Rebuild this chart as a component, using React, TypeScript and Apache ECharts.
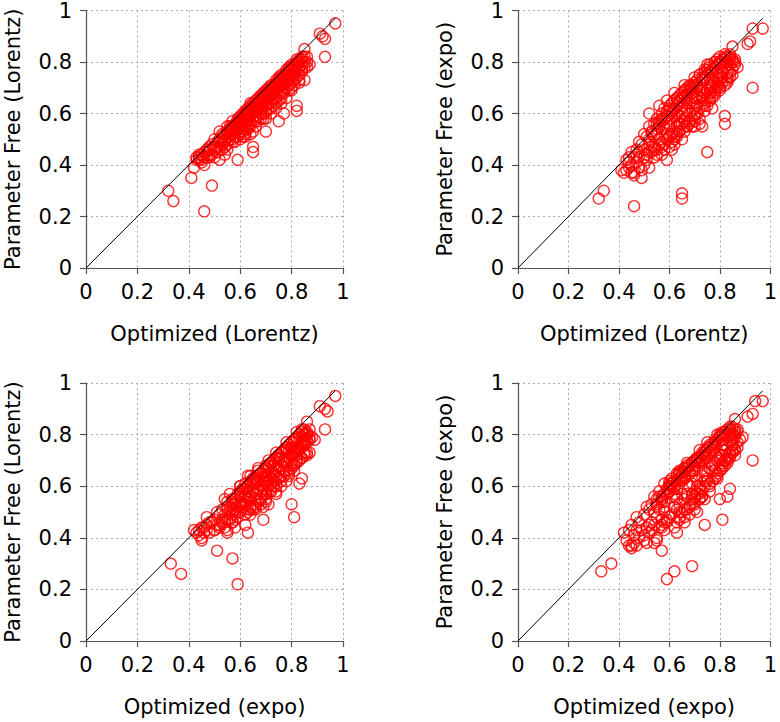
import React, { useEffect, useRef } from "react";
import * as echarts from "echarts";

// Each index i is one item measured four ways.
const optLorentz: number[] = [
  0.46, 0.32, 0.34, 0.49, 0.41, 0.42, 0.59, 0.65, 0.65, 0.70, 0.75, 0.77, 0.82, 0.82, 0.93, 0.91, 0.92, 0.93, 0.97, 0.52, 0.53,
  0.43, 0.44, 0.45, 0.45, 0.46, 0.44, 0.47, 0.46, 0.48, 0.48,
  0.49, 0.50, 0.50, 0.49, 0.51, 0.50, 0.52, 0.52, 0.53, 0.53,
  0.54, 0.54, 0.55, 0.55, 0.56, 0.56, 0.57, 0.57, 0.57, 0.58,
  0.58, 0.58, 0.59, 0.59, 0.60, 0.60, 0.60, 0.61, 0.61, 0.61,
  0.62, 0.62, 0.62, 0.63, 0.63, 0.63, 0.64, 0.64, 0.64, 0.65,
  0.65, 0.65, 0.66, 0.66, 0.66, 0.67, 0.67, 0.67, 0.68, 0.68,
  0.68, 0.69, 0.69, 0.69, 0.70, 0.70, 0.70, 0.71, 0.71, 0.71,
  0.72, 0.72, 0.72, 0.73, 0.73, 0.73, 0.74, 0.74, 0.74, 0.75,
  0.75, 0.75, 0.76, 0.76, 0.76, 0.77, 0.77, 0.77, 0.78, 0.78,
  0.78, 0.79, 0.79, 0.79, 0.80, 0.80, 0.80, 0.81, 0.81, 0.81,
  0.82, 0.82, 0.83, 0.83, 0.84, 0.84, 0.84, 0.85, 0.86, 0.87,
  0.85, 0.83, 0.55, 0.58, 0.63, 0.66, 0.52, 0.69, 0.72, 0.76,
  0.80, 0.60, 0.48, 0.51, 0.56, 0.62, 0.67, 0.71, 0.74, 0.78,
  0.82, 0.64, 0.59, 0.53, 0.47, 0.70, 0.73, 0.61, 0.55, 0.57,
  0.63, 0.66, 0.68, 0.77, 0.79, 0.81, 0.83, 0.86, 0.84, 0.80,
  0.60, 0.61, 0.62, 0.63, 0.64, 0.65, 0.66, 0.67, 0.68, 0.69,
  0.70, 0.71, 0.72, 0.73, 0.74, 0.75, 0.76, 0.77, 0.78, 0.79,
  0.80, 0.81, 0.82, 0.83, 0.84, 0.57, 0.56, 0.54, 0.53, 0.52,
  0.51, 0.50, 0.47, 0.45, 0.44, 0.43, 0.58, 0.59, 0.60, 0.61,
  0.62, 0.63, 0.64, 0.65, 0.66, 0.67, 0.68, 0.69, 0.70, 0.71,
  0.72, 0.73, 0.74, 0.75, 0.76, 0.77, 0.78, 0.79, 0.80, 0.81,
  0.82, 0.83, 0.84, 0.85, 0.86, 0.62, 0.64, 0.66, 0.68, 0.61,
  0.59, 0.57, 0.55, 0.70, 0.74, 0.78, 0.65, 0.67, 0.69, 0.71,
  0.73, 0.75, 0.77, 0.79, 0.63, 0.61, 0.58, 0.56, 0.54, 0.52,
  0.48, 0.46, 0.55, 0.60, 0.65, 0.70, 0.76, 0.81, 0.85, 0.72,
  0.60, 0.62, 0.64, 0.70, 0.72, 0.74, 0.80, 0.83, 0.85, 0.56,
  0.59, 0.62, 0.66, 0.75, 0.68, 0.57, 0.66, 0.78, 0.54, 0.76,
];

const pfLorentz: number[] = [
  0.22, 0.30, 0.26, 0.32, 0.35, 0.39, 0.42, 0.45, 0.47, 0.53, 0.57, 0.60, 0.61, 0.63, 0.82, 0.91, 0.90, 0.89, 0.95, 0.53, 0.48,
  0.43, 0.42, 0.44, 0.41, 0.45, 0.44, 0.43, 0.40, 0.44, 0.46,
  0.48, 0.47, 0.43, 0.44, 0.45, 0.50, 0.42, 0.49, 0.46, 0.51,
  0.44, 0.52, 0.48, 0.53, 0.50, 0.54, 0.52, 0.55, 0.49, 0.56,
  0.51, 0.53, 0.57, 0.54, 0.58, 0.52, 0.55, 0.59, 0.56, 0.51,
  0.60, 0.57, 0.54, 0.61, 0.58, 0.55, 0.62, 0.59, 0.56, 0.63,
  0.60, 0.53, 0.64, 0.61, 0.57, 0.65, 0.62, 0.59, 0.66, 0.63,
  0.60, 0.67, 0.64, 0.58, 0.68, 0.65, 0.61, 0.69, 0.66, 0.62,
  0.70, 0.67, 0.64, 0.71, 0.68, 0.63, 0.72, 0.69, 0.66, 0.73,
  0.70, 0.67, 0.74, 0.71, 0.68, 0.75, 0.72, 0.69, 0.76, 0.73,
  0.70, 0.77, 0.74, 0.71, 0.78, 0.75, 0.72, 0.79, 0.76, 0.73,
  0.80, 0.77, 0.81, 0.78, 0.82, 0.79, 0.76, 0.80, 0.78, 0.79,
  0.85, 0.75, 0.53, 0.55, 0.60, 0.63, 0.50, 0.66, 0.69, 0.73,
  0.77, 0.57, 0.47, 0.49, 0.55, 0.61, 0.66, 0.70, 0.73, 0.77,
  0.81, 0.63, 0.58, 0.52, 0.46, 0.63, 0.66, 0.54, 0.46, 0.50,
  0.57, 0.59, 0.62, 0.71, 0.73, 0.75, 0.77, 0.82, 0.80, 0.70,
  0.59, 0.58, 0.59, 0.62, 0.61, 0.62, 0.65, 0.64, 0.65, 0.68,
  0.67, 0.68, 0.71, 0.70, 0.71, 0.74, 0.75, 0.74, 0.75, 0.78,
  0.79, 0.78, 0.79, 0.80, 0.81, 0.54, 0.52, 0.50, 0.49, 0.47,
  0.47, 0.46, 0.45, 0.42, 0.43, 0.42, 0.49, 0.51, 0.53, 0.53,
  0.52, 0.54, 0.55, 0.57, 0.58, 0.57, 0.58, 0.60, 0.60, 0.64,
  0.62, 0.65, 0.64, 0.65, 0.66, 0.68, 0.72, 0.69, 0.74, 0.71,
  0.74, 0.73, 0.77, 0.78, 0.80, 0.60, 0.64, 0.62, 0.67, 0.60,
  0.55, 0.57, 0.55, 0.69, 0.70, 0.74, 0.64, 0.63, 0.65, 0.67,
  0.69, 0.71, 0.73, 0.75, 0.59, 0.57, 0.54, 0.51, 0.49, 0.46,
  0.43, 0.43, 0.51, 0.56, 0.61, 0.66, 0.72, 0.77, 0.82, 0.68,
  0.50, 0.51, 0.52, 0.58, 0.60, 0.62, 0.69, 0.72, 0.73, 0.53,
  0.56, 0.58, 0.62, 0.72, 0.64, 0.53, 0.55, 0.66, 0.47, 0.64,
];

const optExpo: number[] = [
  0.59, 0.33, 0.37, 0.57, 0.51, 0.45, 0.63, 0.62, 0.69, 0.80, 0.74, 0.74, 0.83, 0.84, 0.93, 0.91, 0.93, 0.94, 0.97, 0.60, 0.81,
  0.42, 0.43, 0.45, 0.44, 0.47, 0.46, 0.50, 0.45, 0.52, 0.49,
  0.47, 0.53, 0.55, 0.54, 0.52, 0.51, 0.55, 0.54, 0.57, 0.53,
  0.58, 0.56, 0.59, 0.58, 0.60, 0.55, 0.61, 0.58, 0.62, 0.60,
  0.63, 0.57, 0.59, 0.62, 0.61, 0.64, 0.63, 0.61, 0.64, 0.66,
  0.63, 0.62, 0.67, 0.64, 0.65, 0.68, 0.64, 0.67, 0.63, 0.66,
  0.68, 0.71, 0.66, 0.70, 0.69, 0.68, 0.69, 0.72, 0.69, 0.70,
  0.73, 0.70, 0.71, 0.74, 0.71, 0.73, 0.72, 0.72, 0.75, 0.76,
  0.73, 0.74, 0.77, 0.74, 0.76, 0.75, 0.75, 0.77, 0.79, 0.76,
  0.78, 0.80, 0.77, 0.79, 0.81, 0.78, 0.80, 0.82, 0.79, 0.81,
  0.83, 0.80, 0.82, 0.84, 0.81, 0.83, 0.85, 0.82, 0.84, 0.86,
  0.83, 0.85, 0.84, 0.86, 0.85, 0.87, 0.85, 0.86, 0.89, 0.88,
  0.86, 0.84, 0.60, 0.64, 0.69, 0.72, 0.57, 0.74, 0.78, 0.81,
  0.84, 0.66, 0.50, 0.52, 0.57, 0.62, 0.67, 0.71, 0.74, 0.78,
  0.82, 0.65, 0.60, 0.55, 0.48, 0.75, 0.78, 0.62, 0.57, 0.59,
  0.66, 0.67, 0.71, 0.79, 0.80, 0.82, 0.85, 0.87, 0.85, 0.82,
  0.62, 0.63, 0.65, 0.66, 0.66, 0.67, 0.69, 0.70, 0.72, 0.70,
  0.74, 0.73, 0.75, 0.77, 0.76, 0.78, 0.80, 0.81, 0.80, 0.81,
  0.83, 0.85, 0.84, 0.86, 0.86, 0.60, 0.59, 0.56, 0.58, 0.55,
  0.56, 0.53, 0.51, 0.48, 0.44, 0.46, 0.64, 0.65, 0.66, 0.68,
  0.66, 0.70, 0.68, 0.70, 0.72, 0.70, 0.69, 0.73, 0.71, 0.74,
  0.73, 0.72, 0.76, 0.79, 0.77, 0.80, 0.82, 0.80, 0.83, 0.84,
  0.83, 0.85, 0.86, 0.87, 0.85, 0.60, 0.63, 0.65, 0.67, 0.60,
  0.58, 0.56, 0.54, 0.72, 0.75, 0.79, 0.64, 0.66, 0.68, 0.70,
  0.72, 0.74, 0.76, 0.78, 0.62, 0.60, 0.57, 0.58, 0.57, 0.54,
  0.50, 0.47, 0.55, 0.62, 0.65, 0.70, 0.75, 0.81, 0.84, 0.73,
  0.63, 0.64, 0.69, 0.72, 0.76, 0.78, 0.81, 0.86, 0.87, 0.61,
  0.64, 0.68, 0.71, 0.80, 0.73, 0.62, 0.70, 0.81, 0.58, 0.79,
];

const pfExpo: number[] = [
  0.24, 0.27, 0.30, 0.35, 0.38, 0.37, 0.42, 0.27, 0.29, 0.55, 0.45, 0.62, 0.56, 0.59, 0.70, 0.87, 0.88, 0.93, 0.93, 0.60, 0.47,
  0.42, 0.39, 0.45, 0.37, 0.43, 0.41, 0.41, 0.36, 0.45, 0.43,
  0.48, 0.46, 0.40, 0.38, 0.42, 0.52, 0.39, 0.50, 0.45, 0.53,
  0.43, 0.51, 0.46, 0.54, 0.48, 0.55, 0.49, 0.57, 0.44, 0.58,
  0.46, 0.54, 0.59, 0.52, 0.61, 0.47, 0.55, 0.60, 0.53, 0.46,
  0.62, 0.59, 0.51, 0.63, 0.57, 0.52, 0.65, 0.56, 0.59, 0.63,
  0.60, 0.50, 0.67, 0.58, 0.55, 0.66, 0.61, 0.55, 0.69, 0.64,
  0.56, 0.68, 0.62, 0.55, 0.71, 0.64, 0.60, 0.70, 0.63, 0.60,
  0.72, 0.66, 0.62, 0.73, 0.67, 0.65, 0.74, 0.68, 0.64, 0.75,
  0.69, 0.66, 0.76, 0.70, 0.68, 0.77, 0.71, 0.70, 0.78, 0.72,
  0.69, 0.79, 0.74, 0.71, 0.80, 0.75, 0.73, 0.81, 0.77, 0.74,
  0.82, 0.78, 0.80, 0.79, 0.83, 0.82, 0.76, 0.80, 0.79, 0.78,
  0.86, 0.73, 0.58, 0.62, 0.66, 0.69, 0.55, 0.71, 0.75, 0.78,
  0.82, 0.63, 0.49, 0.51, 0.56, 0.62, 0.67, 0.70, 0.74, 0.78,
  0.81, 0.64, 0.59, 0.53, 0.46, 0.62, 0.66, 0.52, 0.44, 0.47,
  0.55, 0.57, 0.60, 0.71, 0.72, 0.74, 0.76, 0.81, 0.79, 0.70,
  0.62, 0.64, 0.65, 0.66, 0.67, 0.68, 0.69, 0.70, 0.71, 0.70,
  0.72, 0.73, 0.75, 0.74, 0.76, 0.77, 0.79, 0.76, 0.80, 0.81,
  0.79, 0.80, 0.83, 0.82, 0.81, 0.60, 0.57, 0.56, 0.52, 0.48,
  0.44, 0.43, 0.44, 0.40, 0.43, 0.38, 0.48, 0.50, 0.51, 0.49,
  0.48, 0.51, 0.53, 0.56, 0.57, 0.55, 0.57, 0.58, 0.57, 0.60,
  0.56, 0.55, 0.61, 0.63, 0.66, 0.66, 0.68, 0.70, 0.70, 0.72,
  0.71, 0.74, 0.74, 0.77, 0.80, 0.62, 0.65, 0.66, 0.69, 0.61,
  0.61, 0.58, 0.56, 0.74, 0.77, 0.80, 0.66, 0.64, 0.65, 0.67,
  0.69, 0.72, 0.73, 0.76, 0.60, 0.58, 0.55, 0.50, 0.47, 0.45,
  0.39, 0.37, 0.52, 0.56, 0.62, 0.66, 0.71, 0.76, 0.81, 0.69,
  0.51, 0.50, 0.53, 0.59, 0.58, 0.63, 0.69, 0.72, 0.75, 0.63,
  0.65, 0.68, 0.71, 0.79, 0.70, 0.57, 0.53, 0.67, 0.46, 0.65,
];

const diagonal: number[][] = [
  [0, 0],
  [0.97, 0.97],
];

const axisTicks = { min: 0, max: 1, interval: 0.2 };

const panels = [
  { x: optLorentz, y: pfLorentz, xName: "Optimized (Lorentz)", yName: "Parameter Free (Lorentz)" },
  { x: optLorentz, y: pfExpo, xName: "Optimized (Lorentz)", yName: "Parameter Free (expo)" },
  { x: optExpo, y: pfLorentz, xName: "Optimized (expo)", yName: "Parameter Free (Lorentz)" },
  { x: optExpo, y: pfExpo, xName: "Optimized (expo)", yName: "Parameter Free (expo)" },
];

const gridPos = [
  { left: 86, top: 10 },
  { left: 518, top: 10 },
  { left: 86, top: 383 },
  { left: 518, top: 383 },
];

const FONT = "DejaVu Sans";

export default function App() {
  const ref = useRef<HTMLDivElement>(null);

  useEffect(() => {
    if (!ref.current) return;
    const chart = echarts.init(ref.current, undefined, { renderer: "svg" });

    const fmt = (v: number) => String(Math.round(v * 10) / 10);

    const axisCommon = {
      type: "value" as const,
      ...axisTicks,
      nameLocation: "middle" as const,
      nameTextStyle: { fontFamily: FONT, fontSize: 21, color: "#000" },
      axisLine: { show: true, onZero: false, lineStyle: { color: "#555", width: 1.2 } },
      axisTick: { show: true, inside: false, length: 6, lineStyle: { color: "#555", width: 1.2 } },
      axisLabel: { fontFamily: FONT, fontSize: 21, color: "#000", formatter: fmt },
      splitLine: { show: true, lineStyle: { type: [2, 3], color: "#aaaaaa", width: 1 } },
    };

    const series: any[] = [];
    panels.forEach((p, i) => {
      series.push({
        type: "scatter",
        xAxisIndex: i,
        yAxisIndex: i,
        symbol: "circle",
        symbolSize: 11,
        itemStyle: { color: "rgba(0,0,0,0)", borderColor: "#ff0000", borderWidth: 1.4 },
        data: p.x.map((xv, k) => [xv, p.y[k]]),
        z: 2,
      });
      series.push({
        type: "line",
        xAxisIndex: i,
        yAxisIndex: i,
        showSymbol: false,
        symbol: "none",
        lineStyle: { color: "#000", width: 1 },
        data: diagonal,
        z: 3,
      });
    });

    chart.setOption({
      animation: false,
      backgroundColor: "#fff",
      textStyle: { fontFamily: FONT },
      grid: gridPos.map((g) => ({ left: g.left, top: g.top, width: 257, height: 258 })),
      xAxis: panels.map((p, i) => ({
        ...axisCommon,
        gridIndex: i,
        name: p.xName,
        nameGap: 55,
        axisLabel: { ...axisCommon.axisLabel, margin: 13 },
      })),
      yAxis: panels.map((p, i) => ({
        ...axisCommon,
        gridIndex: i,
        name: p.yName,
        nameGap: 63,
        nameRotate: 90,
        axisLabel: { ...axisCommon.axisLabel, margin: 14 },
      })),
      series,
    });

    return () => chart.dispose();
  }, []);

  return (
    <div
      ref={ref}
      style={{ position: "absolute", left: 0, top: 0, width: 780, height: 722 }}
    />
  );
}
